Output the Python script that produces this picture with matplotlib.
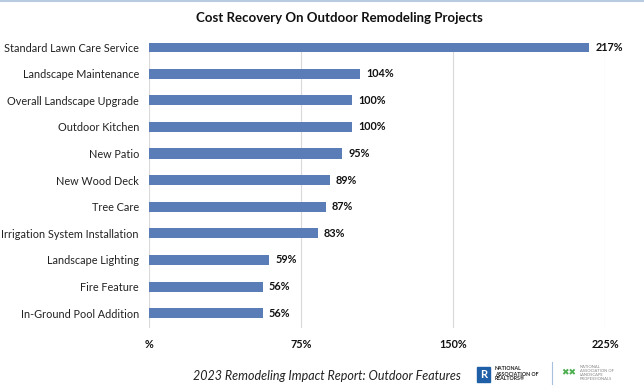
import numpy as np
import matplotlib
matplotlib.use("Agg")
from matplotlib import pyplot as plt
from matplotlib.patches import Rectangle

categories = ['Standard Lawn Care Service', 'Landscape Maintenance', 'Overall Landscape Upgrade',
              'Outdoor Kitchen', 'New Patio', 'New Wood Deck', 'Tree Care',
              'Irrigation System Installation', 'Landscape Lighting', 'Fire Feature',
              'In-Ground Pool Addition']
values = [217, 104, 100, 100, 95, 89, 87, 83, 59, 56, 56]
ticks = [0, 75, 150, 225]
tick_labels = ['%', '75%', '150%', '225%']

plt.rcParams['font.family'] = ['Lato', 'DejaVu Sans']

fig = plt.figure(figsize=(6.44, 3.92), dpi=100)
ax = fig.add_axes([0.232, 0.163, 0.708, 0.727])

y = np.arange(len(categories))
ax.barh(y, values, height=0.38, color='#5a7db7', zorder=3)
for yi, v in zip(y, values):
    ax.text(v + 3, yi, f'{v}%', va='center', ha='left', fontsize=7.8, fontweight='bold', color='#111111')

ax.set_yticks(y)
ax.set_yticklabels(categories, fontsize=7.8, color='#222222')
ax.set_ylim(10.56, -0.15)
ax.set_xlim(0, 225)
ax.set_xticks(ticks)
ax.set_xticklabels(tick_labels, fontsize=7.8, fontweight='bold', color='#111111')
ax.tick_params(axis='both', length=0)
ax.tick_params(axis='y', pad=7.5)
ax.tick_params(axis='x', pad=8)
ax.grid(axis='x', color='#d9d9d9', linewidth=0.8, zorder=0)
for s in ax.spines.values():
    s.set_visible(False)

fig.text(0.527, 0.955, 'Cost Recovery On Outdoor Remodeling Projects', ha='center', va='center',
         fontsize=9.5, fontweight='bold', color='#111111')
fig.text(0.507, 0.042, '2023 Remodeling Impact Report: Outdoor Features', ha='center', va='center',
         fontsize=9.0, style='italic', color='#222222')

# top border line
fig.add_artist(plt.Line2D([0, 1], [0.997, 0.997], color='#b8cbe0', linewidth=1.5))

# logos (approximate)
fig.add_artist(Rectangle((477 / 644, 1 - 382 / 392), 13 / 644, 15 / 392, color='#1f5fa8'))
fig.text(483.5 / 644, 1 - 374.5 / 392, 'R', ha='center', va='center', fontsize=8,
         fontweight='bold', color='white')
fig.text(495 / 644, 1 - 374 / 392, 'NATIONAL\nASSOCIATION OF\nREALTORS\u00ae', ha='left', va='center',
         fontsize=3.8, fontweight='bold', color='#222222', linespacing=1.0)
fig.add_artist(plt.Line2D([552 / 644, 552 / 644], [1 - 384 / 392, 1 - 362 / 392],
                          color='#a8c0dc', linewidth=0.8))
fig.text(569 / 644, 1 - 373 / 392, '\u2716\u2716', ha='center', va='center', fontsize=6.5,
         color='#4caf50', family=['DejaVu Sans'])
fig.text(580 / 644, 1 - 373 / 392, 'NATIONAL\nASSOCIATION OF\nLANDSCAPE\nPROFESSIONALS', ha='left',
         va='center', fontsize=3.0, color='#888888', linespacing=1.0)

fig.savefig('out.png', dpi=100)
